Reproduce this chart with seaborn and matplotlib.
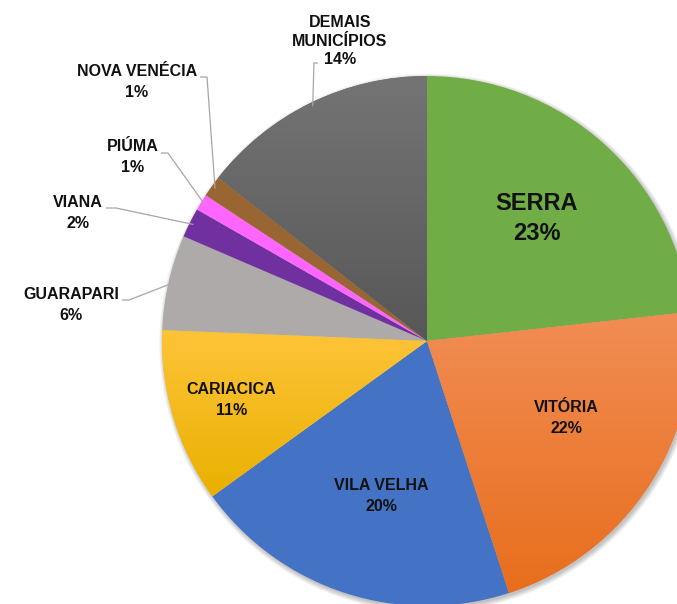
import numpy as np
import matplotlib
matplotlib.use("Agg")
import matplotlib.pyplot as plt
import matplotlib.colors as mcolors
from matplotlib.patches import Circle
import seaborn as sns

# ---- data ----
categories = ["SERRA", "VITÓRIA", "VILA VELHA", "CARIACICA", "GUARAPARI",
              "VIANA", "PIÚMA", "NOVA VENÉCIA", "DEMAIS\nMUNICÍPIOS"]
shares = [23.2, 21.7, 20.0, 10.6, 5.8, 1.8, 1.0, 1.3, 14.4]
colors = ["#70AD47", "#F07F38", "#4472C4", "#FCBE1C", "#AEAAAA",
          "#7030A0", "#FF66FF", "#996633", "#666666"]
# vertical gradients (top, bottom) for some slices
gradients = {1: ("#F18D55", "#E86E1C"), 3: ("#FEC43A", "#E9B000"),
             8: ("#747474", "#575757")}

sns.set_theme(style="white")
plt.rcParams['font.family'] = ['Liberation Sans', 'DejaVu Sans']

W, H = 677, 604
fig = plt.figure(figsize=(W / 100, H / 100), dpi=100)
ax = fig.add_axes([0, 0, 1, 1])

R = 265.0              # pie radius in pixels
CX, CY = 427.0, 341.0  # pie centre in pixels (from top-left)


def px(x, y):
    return (x - CX) / R, (CY - y) / R


# soft shadow
for k in range(5):
    ax.add_patch(Circle((0.006, -0.008), 1.0 + 0.004 * k, color="#000000",
                        alpha=0.05, lw=0, zorder=0))

wedges, _ = ax.pie(shares, colors=colors, startangle=90, counterclock=False,
                   radius=1.0, wedgeprops=dict(linewidth=0, zorder=1))

for i, (top, bot) in gradients.items():
    w = wedges[i]
    ext = w.get_path().get_extents(w.get_patch_transform())
    c0 = np.array(mcolors.to_rgb(top))
    c1 = np.array(mcolors.to_rgb(bot))
    t = np.linspace(0, 1, 256)[:, None, None]
    img = c0 * (1 - t) + c1 * t
    im = ax.imshow(img, extent=[ext.x0, ext.x1, ext.y0, ext.y1],
                   origin="upper", aspect="auto", zorder=2,
                   interpolation="bilinear")
    im.set_clip_path(w)

txt_color = "#111111"


def mid_angle(w, d=0.0):
    return np.deg2rad((w.theta1 + w.theta2) / 2 + d)


# inside labels: index -> (radius fraction, angle shift in deg, font size, spacing)
inside = {0: (0.62, 0.0, 17, 1.35), 1: (0.60, 3.9, 11.5, 1.45),
          2: (0.61, 1.5, 11.5, 1.45), 3: (0.77, 0.0, 11.5, 1.45)}
for i, (rf, d, fs, ls) in inside.items():
    a = mid_angle(wedges[i], d)
    ax.text(rf * np.cos(a), rf * np.sin(a),
            f"{categories[i]}\n{round(shares[i]):.0f}%",
            ha="center", va="center", fontsize=fs, fontweight="bold",
            color=txt_color, linespacing=ls, zorder=5)

# outside labels: index -> (text centre px, elbow px)
outside = {
    4: ((71, 305), [(122, 300), (129, 300)]),
    5: ((78, 213), [(106, 208), (116, 208)]),
    6: ((133, 157), [(161, 153), (168, 153)]),
    7: ((137, 82), [(200, 77), (207, 77)]),
    8: ((340, 41), [(318, 63), (314, 63)]),
}
for i, ((tx, ty), elbow) in outside.items():
    x, y = px(tx, ty)
    ax.text(x, y, f"{categories[i]}\n{round(shares[i]):.0f}%",
            ha="center", va="center", fontsize=11.5, fontweight="bold",
            color=txt_color, linespacing=1.45 if i != 8 else 1.3, zorder=5)
    a = mid_angle(wedges[i])
    pts = [px(*p) for p in elbow] + [(0.985 * np.cos(a), 0.985 * np.sin(a))]
    ax.plot([p[0] for p in pts], [p[1] for p in pts], color="#A6A6A6",
            lw=0.9, zorder=4, solid_capstyle="butt")

ax.set_xlim(-CX / R, (W - CX) / R)
ax.set_ylim(-(H - CY) / R, CY / R)
ax.set_aspect("auto")
ax.axis("off")

fig.savefig("out.png", dpi=100, facecolor="white")
